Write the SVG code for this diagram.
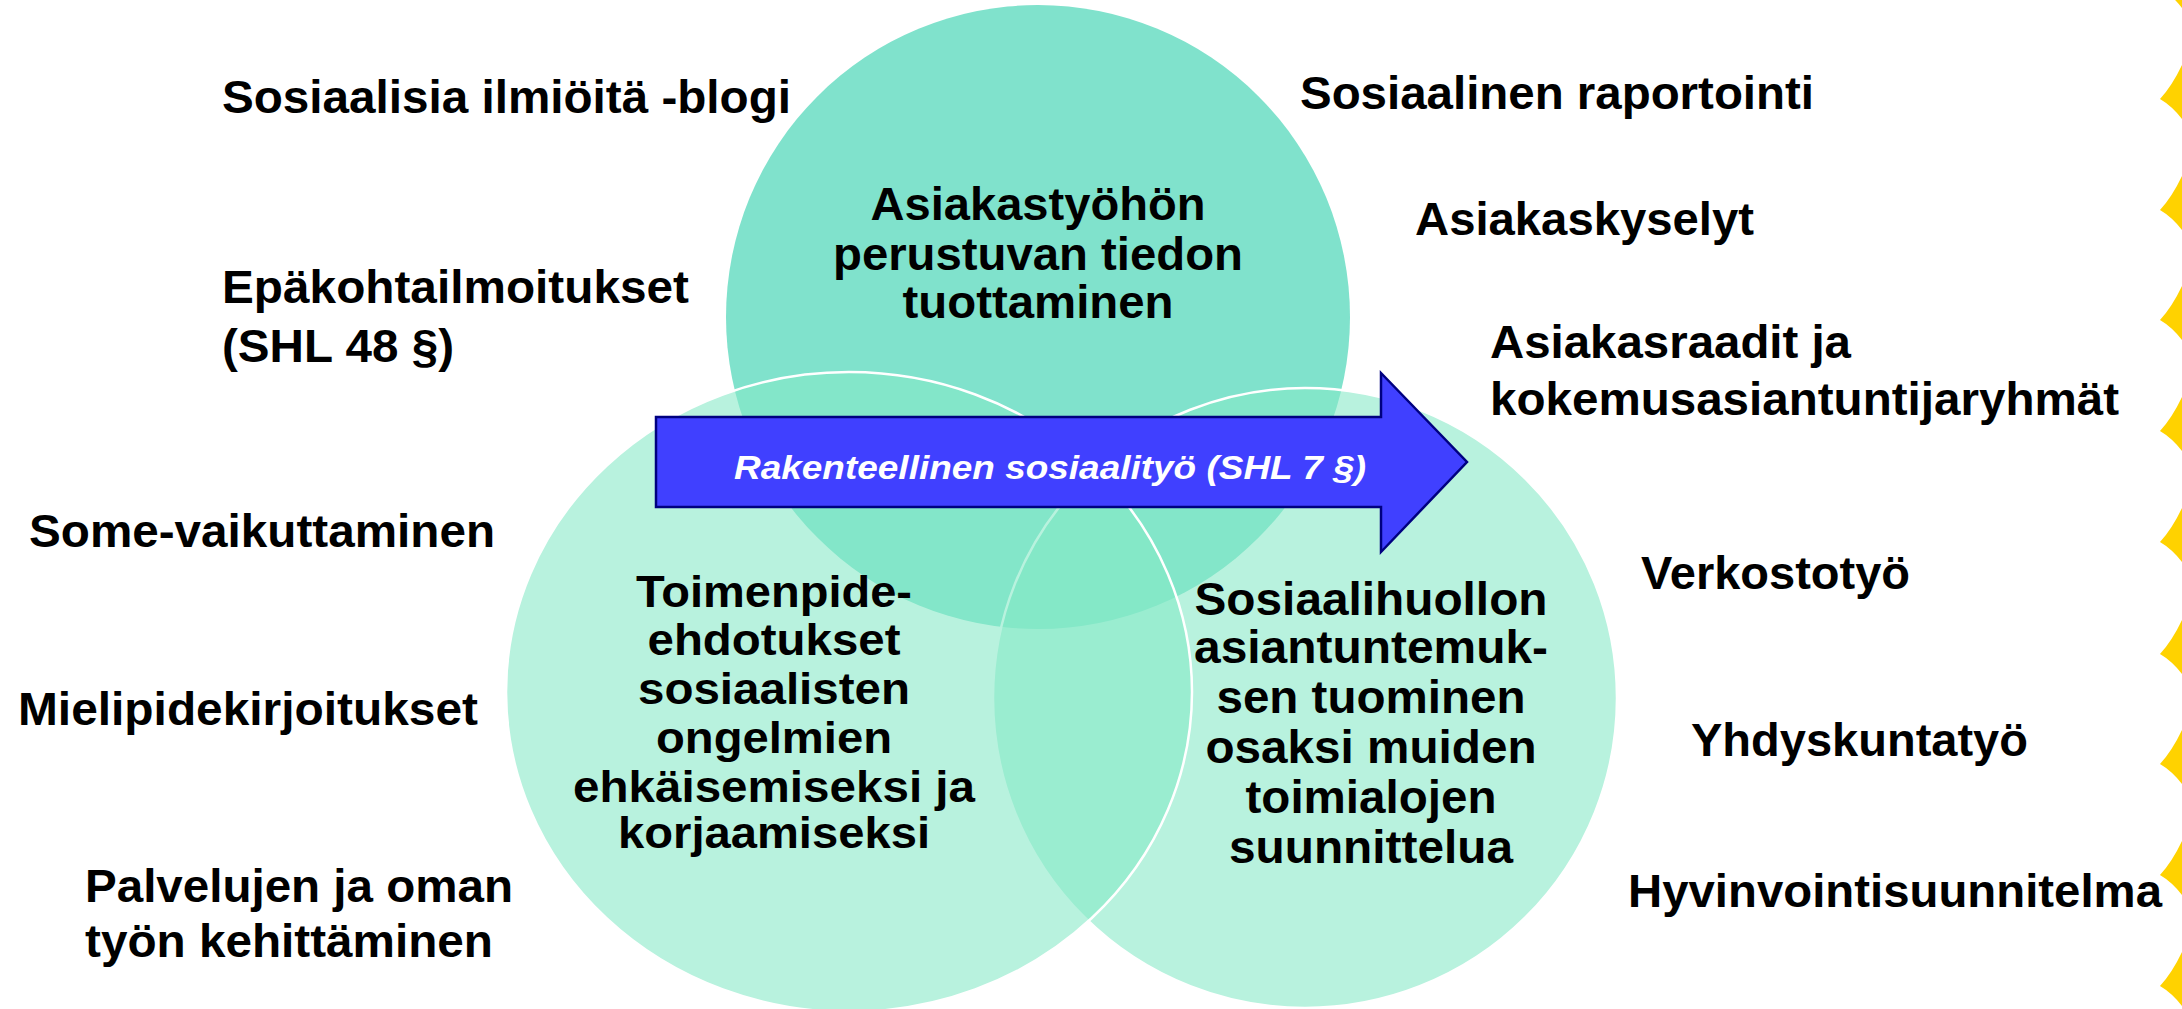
<svg xmlns="http://www.w3.org/2000/svg" width="2182" height="1009" viewBox="0 0 2182 1009">
<style>
.t{font-family:"Liberation Sans",Arial,sans-serif;font-weight:bold;font-size:47px;fill:#000}
.s{font-size:45px}
.c{text-anchor:middle}
.lo{fill:#85E9C6;fill-opacity:0.58;stroke:#fff;stroke-width:2.5}
.y{fill:#FFD200}
.at{font-family:"Liberation Sans",Arial,sans-serif;font-weight:bold;font-style:italic;font-size:34px;fill:#fff;text-anchor:middle}
</style>
<rect width="2182" height="1009" fill="#fff"/>
<g id="circle-top">
<circle cx="1038" cy="317" r="312" fill="#80E2CC"/>
</g>
<g id="circle-right">
<ellipse class="lo" cx="1305" cy="698" rx="312" ry="310"/>
</g>
<g id="circle-left">
<ellipse class="lo" cx="849" cy="692" rx="343" ry="320"/>
</g>
<g id="top-text">
<text class="t c" x="1038" y="220" textLength="335" lengthAdjust="spacingAndGlyphs">Asiakastyöhön</text>
<text class="t c" x="1038" y="270" textLength="410" lengthAdjust="spacingAndGlyphs">perustuvan tiedon</text>
<text class="t c" x="1038" y="318" textLength="271" lengthAdjust="spacingAndGlyphs">tuottaminen</text>
</g>
<g id="left-text">
<text class="t s c" x="774" y="607" textLength="276" lengthAdjust="spacingAndGlyphs">Toimenpide-</text>
<text class="t s c" x="774" y="655" textLength="253" lengthAdjust="spacingAndGlyphs">ehdotukset</text>
<text class="t s c" x="774" y="704" textLength="272" lengthAdjust="spacingAndGlyphs">sosiaalisten</text>
<text class="t s c" x="774" y="753" textLength="236" lengthAdjust="spacingAndGlyphs">ongelmien</text>
<text class="t s c" x="774" y="802" textLength="402" lengthAdjust="spacingAndGlyphs">ehkäisemiseksi ja</text>
<text class="t s c" x="774" y="848" textLength="312" lengthAdjust="spacingAndGlyphs">korjaamiseksi</text>
</g>
<g id="right-text">
<text class="t c" x="1371" y="615" textLength="353" lengthAdjust="spacingAndGlyphs">Sosiaalihuollon</text>
<text class="t c" x="1371" y="663" textLength="354" lengthAdjust="spacingAndGlyphs">asiantuntemuk-</text>
<text class="t c" x="1371" y="713" textLength="309" lengthAdjust="spacingAndGlyphs">sen tuominen</text>
<text class="t c" x="1371" y="763" textLength="331" lengthAdjust="spacingAndGlyphs">osaksi muiden</text>
<text class="t c" x="1371" y="813" textLength="251" lengthAdjust="spacingAndGlyphs">toimialojen</text>
<text class="t c" x="1371" y="863" textLength="284" lengthAdjust="spacingAndGlyphs">suunnittelua</text>
</g>
<g id="arrow">
<path d="M656,417 H1381 V373 L1467,462 L1381,552 V507 H656 Z" fill="#4040FF" stroke="#000080" stroke-width="2.5" stroke-linejoin="miter"/>
<text class="at" x="1050" y="479" textLength="632" lengthAdjust="spacingAndGlyphs">Rakenteellinen sosiaalityö (SHL 7 §)</text>
</g>
<g id="left-labels">
<text class="t" x="222" y="113" textLength="569" lengthAdjust="spacingAndGlyphs">Sosiaalisia ilmiöitä -blogi</text>
<text class="t" x="222" y="303" textLength="467" lengthAdjust="spacingAndGlyphs">Epäkohtailmoitukset</text>
<text class="t" x="222" y="362" textLength="232" lengthAdjust="spacingAndGlyphs">(SHL 48 §)</text>
<text class="t" x="29" y="547" textLength="466" lengthAdjust="spacingAndGlyphs">Some-vaikuttaminen</text>
<text class="t" x="18" y="725" textLength="460" lengthAdjust="spacingAndGlyphs">Mielipidekirjoitukset</text>
<text class="t" x="85" y="902" textLength="428" lengthAdjust="spacingAndGlyphs">Palvelujen ja oman</text>
<text class="t" x="85" y="957" textLength="408" lengthAdjust="spacingAndGlyphs">työn kehittäminen</text>
</g>
<g id="right-labels">
<text class="t" x="1300" y="109" textLength="514" lengthAdjust="spacingAndGlyphs">Sosiaalinen raportointi</text>
<text class="t" x="1415" y="235" textLength="339" lengthAdjust="spacingAndGlyphs">Asiakaskyselyt</text>
<text class="t" x="1490" y="358" textLength="361" lengthAdjust="spacingAndGlyphs">Asiakasraadit ja</text>
<text class="t" x="1490" y="415" textLength="629" lengthAdjust="spacingAndGlyphs">kokemusasiantuntijaryhmät</text>
<text class="t" x="1641" y="589" textLength="269" lengthAdjust="spacingAndGlyphs">Verkostotyö</text>
<text class="t" x="1691" y="756" textLength="337" lengthAdjust="spacingAndGlyphs">Yhdyskuntatyö</text>
<text class="t" x="1628" y="907" textLength="534" lengthAdjust="spacingAndGlyphs">Hyvinvointisuunnitelma</text>
</g>
<defs>
<path id="yp" d="M0,0 Q12,-13 22,-34 V20 Q12,7 0,0 Z"/>
</defs>
<g id="yellow-marks" class="y">
<use href="#yp" x="2160" y="-12"/>
<use href="#yp" x="2160" y="99"/>
<use href="#yp" x="2160" y="210"/>
<use href="#yp" x="2160" y="320"/>
<use href="#yp" x="2160" y="431"/>
<use href="#yp" x="2160" y="542"/>
<use href="#yp" x="2160" y="654"/>
<use href="#yp" x="2160" y="764"/>
<use href="#yp" x="2160" y="875"/>
<use href="#yp" x="2160" y="986"/>
</g>
</svg>
